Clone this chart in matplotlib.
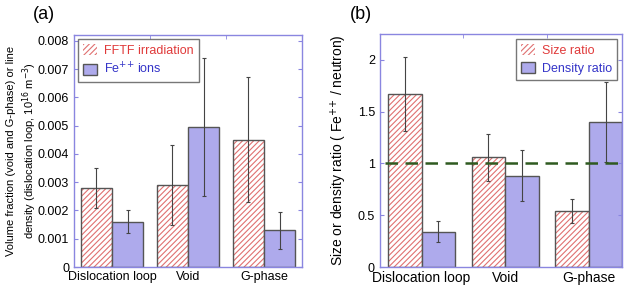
import matplotlib.pyplot as plt
import numpy as np

plt.rcParams['font.family'] = 'Liberation Sans'
plt.rcParams['hatch.linewidth'] = 0.8

cats = ['Dislocation loop', 'Void', 'G-phase']

# (a) volume fraction / line density
fftf = [0.0028, 0.0029, 0.0045]
fftf_err = [0.0007, 0.0014, 0.0022]
feion = [0.0016, 0.00495, 0.0013]
feion_err = [0.0004, 0.00245, 0.00065]

# (b) ratios Fe++ / neutron
size_ratio = [1.67, 1.06, 0.54]
size_err = [0.355, 0.225, 0.115]
dens_ratio = [0.34, 0.88, 1.40]
dens_err = [0.10, 0.245, 0.39]

spine_col = '#8a86e0'
fill_col = '#aeaaec'
hatch_col = '#e07070'
edge_col = '#555555'
fe = r'Fe$^{{+}{+}}$'

fig = plt.figure(figsize=(6.33, 2.85), dpi=100)
ax1 = fig.add_axes([0.117, 0.063, 0.360, 0.814])
ax2 = fig.add_axes([0.600, 0.063, 0.383, 0.818])

x = np.arange(len(cats))


def style(ax, xfs):
    for s in ax.spines.values():
        s.set_color(spine_col)
        s.set_linewidth(1.0)
    ax.tick_params(axis='y', direction='in', color=spine_col, right=True, length=3, labelsize=9)
    ax.tick_params(axis='x', which='major', length=0, labelsize=xfs, pad=3)
    ax.set_xticks([0.5, 1.5], minor=True)
    ax.tick_params(axis='x', which='minor', direction='in', color=spine_col, top=True, bottom=False, length=3)


def draw(ax, a, a_err, b, b_err, w, la, lb):
    h1 = ax.bar(x - w / 2, a, w, color='white', edgecolor=hatch_col, hatch='//////', linewidth=0, label=la)
    ax.bar(x - w / 2, a, w, color='none', edgecolor=edge_col, linewidth=1.0)
    ax.errorbar(x - w / 2, a, yerr=a_err, fmt='none', ecolor='#444444', elinewidth=0.8, capsize=1.5, capthick=0.8)
    h2 = ax.bar(x + w / 2, b, w, color=fill_col, edgecolor=edge_col, linewidth=1.0, label=lb)
    ax.errorbar(x + w / 2, b, yerr=b_err, fmt='none', ecolor='#444444', elinewidth=0.8, capsize=1.5, capthick=0.8)
    return h1, h2


def legend(ax, loc, pad):
    leg = ax.legend(loc=loc, fontsize=9, frameon=True, fancybox=False, edgecolor='#555555',
                    handlelength=1.1, handleheight=1.0, handletextpad=0.6, borderaxespad=pad, labelspacing=0.4)
    leg.get_frame().set_linewidth(1.0)
    for t, c in zip(leg.get_texts(), ['#e03a3a', '#3434c8']):
        t.set_color(c)


draw(ax1, fftf, fftf_err, feion, feion_err, 0.41, 'FFTF irradiation', fe + ' ions')
style(ax1, 9)
ax1.set_xlim(-0.5, 2.5)
ax1.set_ylim(0, 0.0082)
ax1.set_yticks(np.arange(0, 0.0081, 0.001))
ax1.set_yticklabels(['0'] + ['%.3f' % v for v in np.arange(0.001, 0.0081, 0.001)])
ax1.set_xticks(x)
ax1.set_xticklabels(cats)
ax1.set_ylabel('Volume fraction (void and G-phase) or line\ndensity (dislocation loop, 10$^{16}$ m$^{-3}$)',
               fontsize=8, linespacing=1.3)
ax1.yaxis.set_label_coords(-0.155, 0.5)
legend(ax1, 'upper left', 0.3)
fig.text(0.052, 0.935, '(a)', fontsize=13)

draw(ax2, size_ratio, size_err, dens_ratio, dens_err, 0.40, 'Size ratio', 'Density ratio')
style(ax2, 10)
ax2.axhline(1.0, xmin=0.02, xmax=1.0, color='#2f5a20', linestyle=(0, (5, 3)), linewidth=1.8)
ax2.set_xlim(-0.5, 2.4)
ax2.set_ylim(0, 2.25)
ax2.set_yticks([0, 0.5, 1, 1.5, 2])
ax2.set_yticklabels(['0', '0.5', '1', '1.5', '2'])
ax2.set_xticks(x)
ax2.set_xticklabels(cats)
ax2.set_ylabel('Size or density ratio ( ' + fe + ' / neutron)', fontsize=10, labelpad=6)
legend(ax2, 'upper right', 0.4)
fig.text(0.553, 0.935, '(b)', fontsize=13)

plt.savefig('out.png', dpi=100)
